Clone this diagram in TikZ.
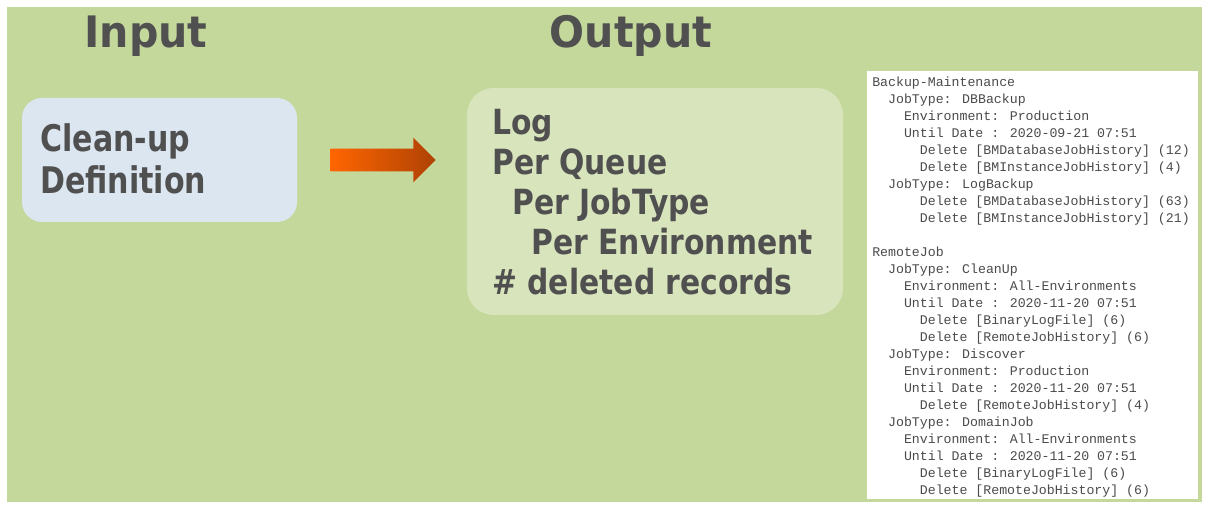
\documentclass[tikz,border=0pt]{standalone}
\usepackage{fontspec}
\usetikzlibrary{shapes.arrows}
\newfontfamily\headfont[FakeStretch=0.95]{DejaVu Sans}
\newfontfamily\boxfont[FakeStretch=0.82]{DejaVu Sans}
\newfontfamily\outfont[FakeStretch=0.86]{DejaVu Sans}
\newfontfamily\logfont{Liberation Mono}

\definecolor{bggreen}{RGB}{197,216,155}
\definecolor{outgreen}{RGB}{216,229,188}
\definecolor{defblue}{RGB}{220,230,241}
\definecolor{inkgray}{RGB}{80,80,80}
\definecolor{loggray}{RGB}{75,75,75}
\definecolor{arrowlight}{RGB}{255,102,0}
\definecolor{arrowdark}{RGB}{175,66,5}

\tikzset{
  heading/.style={font=\headfont\bfseries\fontsize{32.5pt}{36pt}\selectfont, text=inkgray, inner sep=0pt},
  boxtext/.style={text=inkgray, inner sep=0pt, anchor=base west},
  panel/.style={rounded corners=#1, inner sep=0pt},
}

\begin{document}
\begin{tikzpicture}[x=0.75pt, y=-0.75pt]

\useasboundingbox (0,0) rectangle (1205,505);
\fill[white] (0,0) rectangle (1205,505);
\fill[bggreen] (7,7) rectangle (1202,502);

% Headings
\node[heading, anchor=base] (intitle) at (146,48) {Input};
\node[heading, anchor=base] (outtitle) at (631,48) {Output};

% Input box
\node[panel=15pt, fill=defblue, minimum width=206.25pt, minimum height=93pt] (defbox) at (159.5,160) {};
\begin{scope}[font=\boxfont\bfseries\fontsize{27.5pt}{30pt}\selectfont]
\node[boxtext] (defline1) at (40,152) {Clean-up};
\node[boxtext] (defline2) at (40,194) {Definition};
\end{scope}

% Arrow
\node[single arrow, single arrow head extend=8.25pt, minimum height=78.75pt,
      inner xsep=0pt, inner ysep=8.25pt, left color=arrowlight, right color=arrowdark] (flow) at (377.5,160) {};

% Output box
\node[panel=20pt, fill=outgreen, minimum width=282pt, minimum height=170.25pt] (outbox) at (655,201.5) {};
\begin{scope}[font=\outfont\bfseries\fontsize{26pt}{30pt}\selectfont]
\node[boxtext] (outline1) at (492,135) {Log};
\node[boxtext] (outline2) at (492,175) {Per Queue};
\node[boxtext] (outline3) at (512,215) {Per JobType};
\node[boxtext] (outline4) at (531,255) {Per Environment};
\node[boxtext] (outline5) at (492,295) {\# deleted records};
\end{scope}

% Log sample
\node[fill=white, minimum width=248.25pt, minimum height=321pt, inner sep=0pt] (logbox) at (1032.5,285) {};
\node[anchor=north west, inner sep=0pt, align=left, text=loggray,
      font=\logfont\fontsize{9.92pt}{12.75pt}\selectfont] (logtext) at (872,77) {%
Backup-Maintenance\\
\hspace*{1.2em}JobType: DBBackup\\
\hspace*{2.4em}Environment: Production\\
\hspace*{2.4em}Until Date : 2020-09-21 07:51\\
\hspace*{3.6em}Delete [BMDatabaseJobHistory] (12)\\
\hspace*{3.6em}Delete [BMInstanceJobHistory] (4)\\
\hspace*{1.2em}JobType: LogBackup\\
\hspace*{3.6em}Delete [BMDatabaseJobHistory] (63)\\
\hspace*{3.6em}Delete [BMInstanceJobHistory] (21)\\[12.75pt]
RemoteJob\\
\hspace*{1.2em}JobType: CleanUp\\
\hspace*{2.4em}Environment: All-Environments\\
\hspace*{2.4em}Until Date : 2020-11-20 07:51\\
\hspace*{3.6em}Delete [BinaryLogFile] (6)\\
\hspace*{3.6em}Delete [RemoteJobHistory] (6)\\
\hspace*{1.2em}JobType: Discover\\
\hspace*{2.4em}Environment: Production\\
\hspace*{2.4em}Until Date : 2020-11-20 07:51\\
\hspace*{3.6em}Delete [RemoteJobHistory] (4)\\
\hspace*{1.2em}JobType: DomainJob\\
\hspace*{2.4em}Environment: All-Environments\\
\hspace*{2.4em}Until Date : 2020-11-20 07:51\\
\hspace*{3.6em}Delete [BinaryLogFile] (6)\\
\hspace*{3.6em}Delete [RemoteJobHistory] (6)};

\end{tikzpicture}
\end{document}
